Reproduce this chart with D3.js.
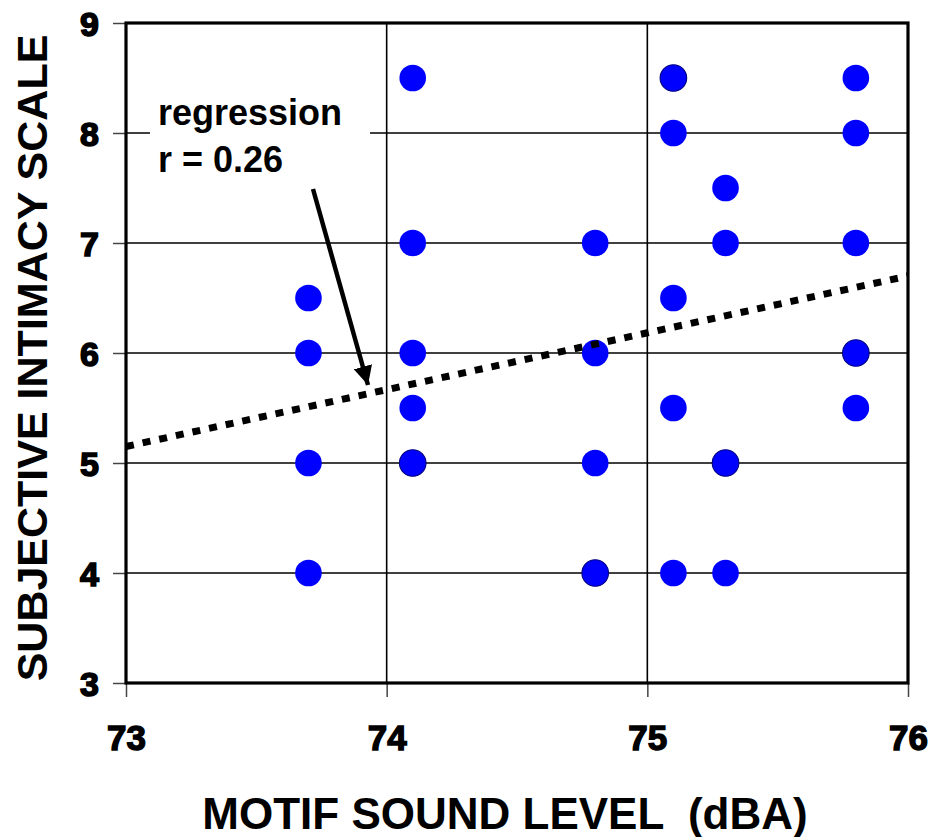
<!DOCTYPE html>
<html>
<head>
<meta charset="utf-8">
<script src="https://cdn.jsdelivr.net/npm/d3@7"></script>
<style>
  html, body { margin: 0; padding: 0; background: #fff; }
  svg text { font-family: "Liberation Sans", Arial, Helvetica, sans-serif; font-weight: bold; fill: #000; }
</style>
</head>
<body>
<svg id="chart" width="933" height="837"></svg>
<script>
// Motif sound level (dBA) vs. subjective intimacy rating
const levels    = [73.7, 73.7, 73.7, 73.7,
                   74.1, 74.1, 74.1, 74.1, 74.1,
                   74.8, 74.8, 74.8, 74.8,
                   75.1, 75.1, 75.1, 75.1, 75.1,
                   75.3, 75.3, 75.3, 75.3,
                   75.8, 75.8, 75.8, 75.8, 75.8];
const intimacy  = [6.5, 6, 5, 4,
                   8.5, 7, 6, 5.5, 5,
                   7, 6, 5, 4,
                   8.5, 8, 6.5, 5.5, 4,
                   7.5, 7, 5, 4,
                   8.5, 8, 7, 6, 5.5];
// number of listeners giving the same rating at that level
const counts    = [1, 1, 1, 1,
                   1, 1, 1, 1, 2,
                   1, 1, 1, 2,
                   2, 1, 1, 1, 1,
                   1, 1, 2, 1,
                   1, 1, 1, 2, 1];

const xTicks = [73, 74, 75, 76];
const yTicks = [3, 4, 5, 6, 7, 8, 9];

// least-squares fit line endpoints
const fitX = [73, 76];
const fitY = [5.15, 6.7];
const noteLines = ["regression", "r = 0.26"];

const svg = d3.select("#chart");
const plotL = 126, plotR = 908, plotT = 23, plotB = 683;

const x = d3.scaleLinear().domain([73, 76]).range([plotL, plotR]);
const y = d3.scaleLinear().domain([3, 9]).range([plotB, plotT]);

// grid
const grid = svg.append("g");
grid.selectAll("line.h").data(yTicks.slice(1, -1)).join("line")
  .attr("class", "h")
  .attr("x1", plotL).attr("x2", plotR)
  .attr("y1", d => y(d)).attr("y2", d => y(d))
  .attr("stroke", "#000").attr("stroke-width", 1.6);
grid.selectAll("line.v").data(xTicks.slice(1, -1)).join("line")
  .attr("class", "v")
  .attr("y1", plotT).attr("y2", plotB)
  .attr("x1", d => x(d)).attr("x2", d => x(d))
  .attr("stroke", "#000").attr("stroke-width", 1.6);

// axes
const yAxis = svg.append("g").attr("transform", `translate(${plotL},0)`)
  .call(d3.axisLeft(y).tickValues(yTicks).tickSize(13).tickPadding(14).tickFormat(d3.format("d")));
yAxis.select(".domain").remove();
yAxis.selectAll("line").attr("stroke", "#444").attr("stroke-width", 1.5);
yAxis.selectAll("text")
  .style("font-size", "34px").style("font-weight", "bold")
  .style("font-family", '"Liberation Sans", Arial, sans-serif')
  .attr("stroke", "#000").attr("stroke-width", 1.6)
  .attr("dy", "0.36em");

const xAxis = svg.append("g").attr("transform", `translate(0,${plotB})`)
  .call(d3.axisBottom(x).tickValues(xTicks).tickSize(14).tickPadding(28).tickFormat(d3.format("d")));
xAxis.select(".domain").remove();
xAxis.selectAll("line").attr("stroke", "#444").attr("stroke-width", 1.5);
xAxis.selectAll("text")
  .style("font-size", "35px").style("font-weight", "bold")
  .style("font-family", '"Liberation Sans", Arial, sans-serif')
  .attr("stroke", "#000").attr("stroke-width", 1.4);

// frame
svg.append("rect")
  .attr("x", plotL).attr("y", plotT)
  .attr("width", plotR - plotL).attr("height", plotB - plotT)
  .attr("fill", "none").attr("stroke", "#000").attr("stroke-width", 3.2);

// annotation background
svg.append("rect")
  .attr("x", 150).attr("y", 88).attr("width", 220).attr("height", 98)
  .attr("fill", "#fff");

// points
const pts = levels.map((l, i) => ({ l, v: intimacy[i], n: counts[i] }));
svg.append("g").selectAll("circle").data(pts).join("circle")
  .attr("cx", d => x(d.l)).attr("cy", d => y(d.v)).attr("r", 13.3)
  .attr("fill", "#0000ff")
  .attr("stroke", d => d.n > 1 ? "#000080" : "none")
  .attr("stroke-width", 1.1);

// regression line
svg.append("line")
  .attr("x1", x(fitX[0])).attr("y1", y(fitY[0]))
  .attr("x2", x(fitX[1])).attr("y2", y(fitY[1]))
  .attr("stroke", "#000").attr("stroke-width", 7)
  .attr("stroke-dasharray", "8,9");

// annotation text
const note = svg.append("text").style("font-size", "36px");
note.selectAll("tspan").data(noteLines).join("tspan")
  .attr("x", 158).attr("y", (d, i) => 125 + i * 47)
  .text(d => d);

// arrow
svg.append("defs").append("marker")
  .attr("id", "head").attr("viewBox", "0 0 10 10")
  .attr("refX", 10).attr("refY", 5)
  .attr("markerWidth", 4.2).attr("markerHeight", 4.2)
  .attr("markerUnits", "strokeWidth")
  .attr("orient", "auto")
  .append("path").attr("d", "M0,0 L10,5 L0,10 Z").attr("fill", "#000");
svg.append("line")
  .attr("x1", 313).attr("y1", 189)
  .attr("x2", 368).attr("y2", 385)
  .attr("stroke", "#000").attr("stroke-width", 4.5)
  .attr("marker-end", "url(#head)");

// axis titles
svg.append("text")
  .attr("x", 505).attr("y", 829)
  .attr("text-anchor", "middle")
  .style("font-size", "44px").style("white-space", "pre")
  .text("MOTIF SOUND LEVEL  (dBA)");

svg.append("text")
  .attr("transform", "translate(47,358) rotate(-90)")
  .attr("text-anchor", "middle")
  .style("font-size", "43px")
  .text("SUBJECTIVE INTIMACY SCALE");
</script>
</body>
</html>
